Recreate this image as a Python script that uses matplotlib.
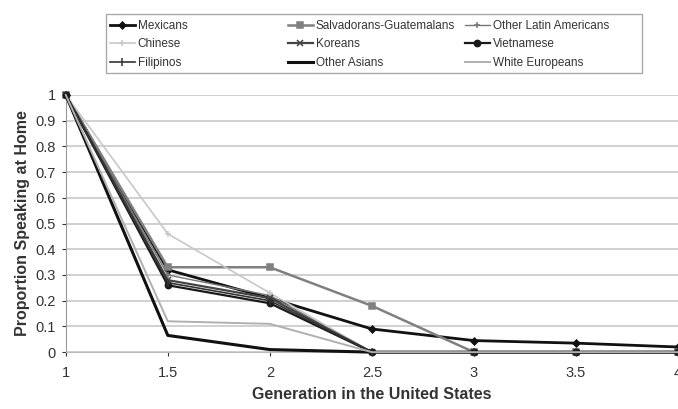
import numpy as np
import matplotlib
matplotlib.use('Agg')
import matplotlib.pyplot as plt
from matplotlib.patches import Rectangle

plt.rcParams['font.family'] = ['Liberation Sans', 'DejaVu Sans']

generation = [1, 1.5, 2, 2.5, 3, 3.5, 4]
gen_labels = ['1', '1.5', '2', '2.5', '3', '3.5', '4']

mexicans = [1, 0.32, 0.21, 0.09, 0.045, 0.035, 0.02]
salv_guat = [1, 0.33, 0.33, 0.18, 0, 0, 0]
other_latin = [1, 0.30, 0.22, 0, 0, 0, 0]
chinese = [1, 0.46, 0.23, 0, 0, 0, 0]
koreans = [1, 0.28, 0.21, 0, 0, 0, 0]
vietnamese = [1, 0.26, 0.19, 0, 0, 0, 0]
filipinos = [1, 0.27, 0.20, 0, 0, 0, 0]
other_asians = [1, 0.065, 0.01, 0, 0, 0, 0]
white_europeans = [1, 0.12, 0.11, 0, 0, 0, 0]

# name, values, color, linewidth, marker, markersize
series = [
    ('Mexicans', mexicans, '#111111', 2.0, 'D', 3.5),
    ('Salvadorans-Guatemalans', salv_guat, '#808080', 1.8, 's', 4.5),
    ('Other Latin Americans', other_latin, '#777777', 1.0, '+', 5),
    ('Chinese', chinese, '#c8c8c8', 1.2, '+', 4),
    ('Koreans', koreans, '#444444', 1.6, 'x', 4),
    ('Vietnamese', vietnamese, '#1a1a1a', 1.6, 'o', 4.5),
    ('Filipinos', filipinos, '#333333', 1.2, '|', 6),
    ('Other Asians', other_asians, '#111111', 2.2, None, 0),
    ('White Europeans', white_europeans, '#b0b0b0', 1.4, None, 0),
]

fig = plt.figure(figsize=(6.78, 4.09), dpi=100)
ax = fig.add_axes([0.097, 0.139, 0.903, 0.629])

handles = {}
for name, vals, color, lw, marker, ms in series:
    line, = ax.plot(generation, vals, color=color, lw=lw, marker=marker,
                    markersize=ms, markeredgewidth=1.1, label=name,
                    clip_on=False, zorder=3)
    handles[name] = line

ax.set_xlim(1, 4)
ax.set_ylim(0, 1)
ax.set_xticks(generation)
ax.set_xticklabels(gen_labels)
ax.set_yticks(np.arange(0, 1.01, 0.1))
ax.set_yticklabels(['0', '0.1', '0.2', '0.3', '0.4', '0.5', '0.6', '0.7',
                    '0.8', '0.9', '1'])
ax.tick_params(labelsize=10.5, colors='#333333', length=3, width=0.8)
ax.tick_params(axis='x', pad=7)
ax.tick_params(axis='y', pad=4)
ax.yaxis.grid(True, color='#c8c8c8', lw=1.2)
ax.set_axisbelow(True)
for side in ['top', 'right']:
    ax.spines[side].set_visible(False)
ax.spines['left'].set_color('#999999')
ax.spines['bottom'].set_color('#bbbbbb')

ax.set_xlabel('Generation in the United States', fontsize=11.5,
              fontweight='bold', color='#333333', labelpad=5)
ax.set_ylabel('Proportion Speaking at Home', fontsize=11.5,
              fontweight='bold', color='#333333', labelpad=4)

# legend: three equal-width columns inside one frame
columns = [['Mexicans', 'Chinese', 'Filipinos'],
           ['Salvadorans-Guatemalans', 'Koreans', 'Other Asians'],
           ['Other Latin Americans', 'Vietnamese', 'White Europeans']]
W, H = 678.0, 409.0
col_x = [110 / W, 288 / W, 465 / W]
for names, x in zip(columns, col_x):
    leg = fig.legend([handles[n] for n in names], names, loc='upper left',
                     bbox_to_anchor=(x, 1 - 20 / H), frameon=False,
                     fontsize=8.5, handlelength=2.1, handletextpad=0.25,
                     labelspacing=0.55, borderpad=0, borderaxespad=0)
    for t in leg.get_texts():
        t.set_color('#333333')
fig.patches.append(Rectangle((106 / W, 1 - 73 / H), 536 / W, 59 / H,
                             transform=fig.transFigure, fill=False,
                             edgecolor='#aaaaaa', lw=1.0))

fig.savefig('out.png', dpi=100)
